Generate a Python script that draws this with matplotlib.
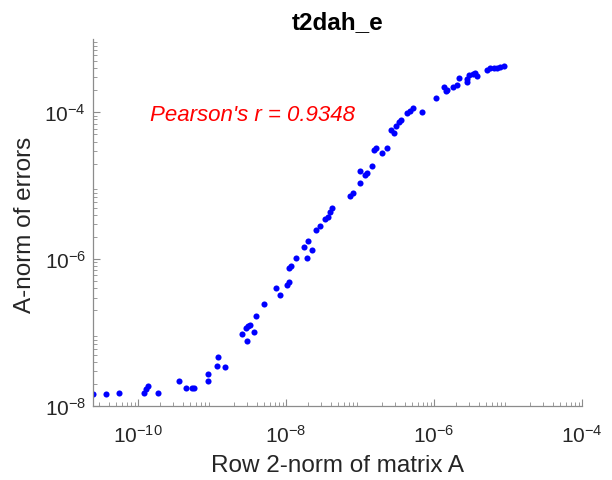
import numpy as np
import matplotlib
matplotlib.use("Agg")
import matplotlib.pyplot as plt

plt.rcParams['font.family'] = ['Liberation Sans', 'DejaVu Sans']
plt.rcParams['mathtext.fontset'] = 'custom'
plt.rcParams['mathtext.rm'] = 'Liberation Sans'
plt.rcParams['mathtext.it'] = 'Liberation Sans:italic'
plt.rcParams['mathtext.bf'] = 'Liberation Sans:bold'

title = "t2dah_e"
xlabel = "Row 2-norm of matrix A"
ylabel = "A-norm of errors"
annotation = "Pearson's r = 0.9348"

log_row_norm = [-10.607, -10.44, -10.26, -9.92, -9.90, -9.865, -9.73, -9.45, -9.35, -9.27,
                -9.24, -9.06, -9.06, -8.94, -8.92, -8.82, -8.60, -8.54, -8.52, -8.49,
                -8.53, -8.43, -8.41, -8.30, -8.14, -8.08, -7.99, -7.955, -7.96, -7.93,
                -7.86, -7.76, -7.72, -7.70, -7.65, -7.60, -7.54, -7.48, -7.44, -7.41,
                -7.38, -7.14, -7.10, -7.00, -7.00, -6.93, -6.90, -6.84, -6.81, -6.79,
                -6.70, -6.63, -6.58, -6.54, -6.51, -6.47, -6.45, -6.36, -6.33, -6.29,
                -6.16, -5.98, -5.87, -5.84, -5.82, -5.75, -5.69, -5.66, -5.56, -5.55,
                -5.53, -5.48, -5.44, -5.42, -5.29, -5.24, -5.19, -5.15, -5.11, -5.06]
log_err_norm = [-7.836, -7.836, -7.83, -7.82, -7.77, -7.73, -7.82, -7.66, -7.76, -7.755,
                -7.75, -7.66, -7.56, -7.45, -7.33, -7.47, -7.02, -6.94, -6.91, -6.90,
                -7.11, -6.99, -6.77, -6.61, -6.39, -6.49, -6.35, -6.31, -6.12, -6.10,
                -5.99, -5.84, -5.98, -5.75, -5.88, -5.60, -5.55, -5.45, -5.43, -5.36,
                -5.31, -5.145, -5.10, -4.96, -4.80, -4.85, -4.82, -4.73, -4.52, -4.49,
                -4.56, -4.48, -4.24, -4.28, -4.18, -4.13, -4.10, -4.01, -3.98, -3.945,
                -4.00, -3.81, -3.655, -3.71, -3.69, -3.655, -3.63, -3.53, -3.59, -3.55,
                -3.49, -3.48, -3.46, -3.50, -3.42, -3.40, -3.395, -3.39, -3.38, -3.37]

x = 10.0 ** np.array(log_row_norm)
y = 10.0 ** np.array(log_err_norm)

fig = plt.figure(figsize=(6.12, 4.81), dpi=100)
ax = fig.add_axes([0.152, 0.154, 0.799, 0.763])
ax.plot(x, y, 'o', color=(0, 0, 1), markersize=4.4, markeredgewidth=0)
ax.set_xscale('log')
ax.set_yscale('log')
ax.set_xlim(10 ** -10.61, 1e-4)
ax.set_ylim(1e-8, 1e-3)
ax.set_xticks([1e-10, 1e-8, 1e-6, 1e-4])
ax.set_yticks([1e-8, 1e-6, 1e-4])

for s in ['top', 'right']:
    ax.spines[s].set_visible(False)
for s in ['left', 'bottom']:
    ax.spines[s].set_color('#8c8c8c')
    ax.spines[s].set_linewidth(0.9)

ax.tick_params(which='both', direction='in', colors='#8c8c8c', labelcolor='#262626', labelsize=15)
ax.tick_params(which='major', length=5, width=0.8)
ax.tick_params(which='minor', length=3, width=0.6)
ax.tick_params(axis='x', pad=13)
ax.tick_params(axis='y', pad=5)

ax.set_xlabel(xlabel, fontsize=17.5, color='#262626')
ax.set_ylabel(ylabel, fontsize=17.5, color='#262626', va='center')
ax.xaxis.set_label_coords(0.5, -0.13)
ax.yaxis.set_label_coords(-0.139, 0.496)
ax.set_title(title, fontsize=17.5, fontweight='bold', color='black', pad=8)

ax.text(10 ** -9.84, 10 ** -4.03, annotation, color='red', fontsize=16,
        fontstyle='italic', ha='left', va='center')

fig.savefig('out.png', dpi=100)
